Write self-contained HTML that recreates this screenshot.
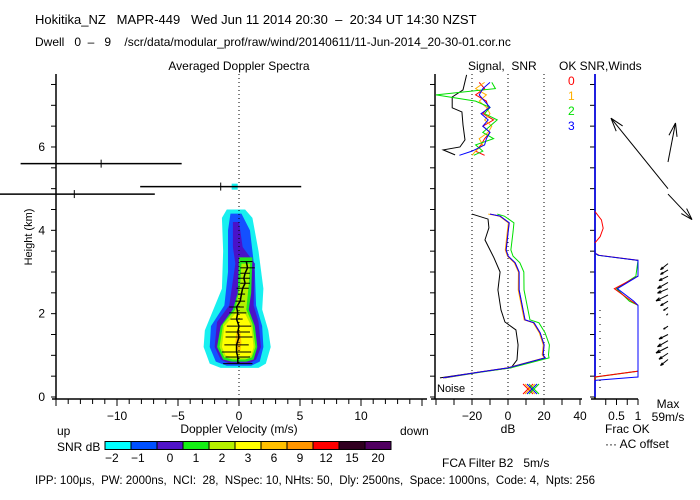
<!DOCTYPE html>
<html><head><meta charset="utf-8"><style>
body{margin:0;background:#fff}
svg{display:block;font-family:"Liberation Sans",sans-serif}
text{font-size:12px;fill:#000;white-space:pre}
</style></head><body>
<svg id="c" width="700" height="500" viewBox="0 0 700 500" xml:space="preserve">
<text x="35" y="24" style="font-size:13px">Hokitika_NZ   MAPR-449   Wed Jun 11 2014 20:30  –  20:34 UT 14:30 NZST</text>
<text x="35" y="46">Dwell   0  –   9    /scr/data/modular_prof/raw/wind/20140611/11-Jun-2014_20-30-01.cor.nc</text>
<text x="239" y="70" text-anchor="middle">Averaged Doppler Spectra</text>
<text x="468" y="70">Signal,  SNR</text>
<text x="559" y="70">OK SNR,Winds</text>
<text transform="translate(32,237) rotate(-90)" text-anchor="middle" style="font-size:11px">Height (km)</text>
<text x="239" y="433" text-anchor="middle">Doppler Velocity (m/s)</text>
<text x="57" y="435">up</text>
<text x="400" y="435">down</text>
<text x="57" y="451">SNR dB</text>
<text x="508" y="433" text-anchor="middle">dB</text>
<text x="605" y="433">Frac OK</text>
<text x="605" y="448">··· AC offset</text>
<text x="668" y="408" text-anchor="middle">Max</text>
<text x="668" y="421" text-anchor="middle">59m/s</text>
<text x="442" y="467">FCA Filter B2   5m/s</text>
<text x="35" y="484" style="font-size:11.5px">IPP: 100μs,  PW: 2000ns,  NCI:  28,  NSpec: 10, NHts: 50,  Dly: 2500ns,  Space: 1000ns,  Code: 4,  Npts: 256</text>
<text x="437" y="392" style="font-size:11px">Noise</text>
</svg>
<script>
// ---- data ----
const heightTicks=[0,2,4,6];
const velTicks=[-10,-5,0,5,10];
const dbTicks=[-20,0,20,40];
const fracTicks=[0.5,1];
const cbLabels=["-2","-1","0","1","2","3","6","9","12","15","20"];
const cbColors=["#00ffff","#0050ff","#5014c8","#14f014","#b4f000","#ffff00","#ffc000","#ff9600","#ff0000","#300020","#500060"];
const lvCyan=[[4.5,-1.0,0.5],[4.3,-1.4,1.1],[3.5,-1.3,1.6],[2.6,-1.4,2.0],[2.1,-2.1,1.9],[1.6,-2.8,2.4],[1.2,-2.9,2.6],[0.8,-2.4,2.2],[0.7,-1.5,1.6]];
const lvBlue=[[4.4,-0.7,0.2],[4.0,-0.9,0.9],[3.0,-0.9,1.3],[2.2,-1.2,1.4],[1.7,-2.3,1.9],[1.2,-2.4,2.0],[0.85,-1.9,1.7],[0.75,-1.0,1.0]];
const lvPurple=[[4.2,-0.5,0.0],[3.6,-0.5,0.3],[3.2,-0.3,1.3],[2.2,-0.8,1.2],[1.8,-1.8,1.6],[1.2,-2.0,1.8],[0.9,-1.5,1.4],[0.8,-0.8,0.8]];
const lvGreen=[[3.35,0.0,1.1],[2.5,-0.1,1.0],[2.1,-0.5,0.8],[1.7,-1.5,1.3],[1.2,-1.8,1.5],[0.9,-1.3,1.2],[0.85,-0.6,0.6]];
const lvYG=[[3.2,0.2,0.9],[2.7,0.1,0.8],[2.1,-0.3,0.6],[1.75,-1.3,1.1],[1.2,-1.6,1.35],[0.95,-1.2,1.05],[0.9,-0.5,0.5]];
const lvYellow=[[2.0,-0.3,0.5],[1.7,-1.2,1.0],[1.2,-1.4,1.2],[1.0,-1.1,1.0],[0.95,-0.5,0.5]];
const lvOrange=[[1.6,-0.2,0.1],[1.3,-0.3,0.2],[1.1,-0.1,0.1]];
const specH=[3.25,3.1,2.97,2.85,2.73,2.61,2.47,2.3,2.16,2.02,1.87,1.7,1.56,1.44,1.25,1.08,0.96,0.8];
const specMean=[0.6,0.7,0.5,0.4,0.5,0.3,0.2,0.1,-0.2,-0.1,-0.2,0,-0.1,0,-0.2,-0.2,-0.1,-0.1];
const specHW=[0.5,0.6,0.4,0.5,0.4,0.5,0.3,0.4,0.6,0.7,0.5,1.0,1.0,1.1,1.0,1.2,1.0,1.2];
const highH=[5.6,5.05,4.87];
const highMean=[-11.3,-1.5,-13.5];
const highHW=[6.6,6.6,6.6];
const sigLowH=[4.39,4.27,4.06,3.77,3.34,3.0,2.57,2.09,1.8,1.61,1.25,0.89,0.7,0.6,0.46];
const sigLowDb=[-20,-11.1,-10.6,-12.8,-7.8,-4.4,-5.6,-3.9,-1.7,4.4,5.6,5,1.7,-15.6,-37.8];
const sigHighH=[7.73,7.37,7.2,6.94,6.84,6.53,6.17,6.0,5.93,5.81];
const sigHighDb=[-23,-25,-31,-31,-25.6,-25,-23.9,-26.7,-36,-29.4];
const snrLowH=[4.39,4.34,4.18,3.96,3.53,3.38,3.22,3.0,2.57,2.33,1.85,1.78,1.54,1.25,1.01,0.94,0.7,0.6,0.46];
const snr0=[-10,-4.4,0.6,0,-1.1,0,3.9,6.1,6.1,7.2,9.4,14.4,17.8,20,19.4,20.6,0,-15.6,-36];
const snr1=[-11,-4.8,0.2,-0.4,-1.5,-0.3,3.5,5.8,5.7,6.8,9.0,14.0,17.4,19.6,19.0,20.2,-0.4,-16,-35];
const snr2=[-6,-2.0,3.3,2.8,1.6,2.8,6.6,8.8,8.9,10,12.2,17.2,20.6,23,22.5,22.8,1.5,-14.5,-35];
const snr3=[-10,-4.4,0.7,0.1,-1.0,0.1,4.0,6.2,6.2,7.3,9.5,14.5,17.9,20.1,19.5,20.7,0,-15.6,-36];
const snrHighH=[7.55,7.4,7.25,7.1,6.95,6.8,6.65,6.5,6.35,6.2,6.05,5.9,5.8];
const snrHigh0=[-16,-13,-18,-12,-11,-14,-8,-14,-10,-13,-15,-18,-13];
const snrHigh1=[-13,-18,-12,-16,-12,-10,-13,-9,-11,-16,-14,-18,-20];
const snrHigh2=[-9,-7,-40,-18,-10,-13,-6,-10,-14,-8,-18,-14,-19];
const snrHigh3=[-10,-14,-16,-13,-10,-15,-11,-14,-10,-12,-13,-20,-27];
const fracH=[3.45,3.4,3.28,2.9,2.6,2.3,2.2,1.2,0.62,0.48,0.4];
const frac0=[0,0.1,1,1,0.45,0.85,1,1,1,0,0];
const frac2=[0,0.07,1,0.95,0.5,0.8,1,1,1,0.02,0];
const frac3=[0,0.08,1,1,0.52,0.9,1,1,1,1,0];
const bumpH=[4.45,4.25,4.05,3.85,3.7];
const bumpRed=[0,0.15,0.19,0.12,0];
const windH=[5.64,5.0,4.87,3.2,3.05,2.9,2.75,2.6,2.45,2.3,2.15,2.0,1.7,1.5,1.35,1.2,1.05,0.9];
const windU=[5,-38,16,-5,-5,-6,-7,-7,-8,-5,-3,-1,-3,-6,-7,-8,-6,-5];
const windV=[26,47,-17,-4,-3,-3,-4,-3,-4,-3,-2,-1,-2,-3,-4,-4,-4,-4];

// ---- scales ----
const svg=document.getElementById('c');
const NS='http://www.w3.org/2000/svg';
const yH=h=>397-h*41.67;
const xV=v=>239+v*12.2;
const xD=d=>508+d*1.8;
const xF=f=>595+f*43;
function mk(tag,a){const e=document.createElementNS(NS,tag);for(const k in a)e.setAttribute(k,a[k]);svg.appendChild(e);return e;}
function line(x1,y1,x2,y2,col,extra){return mk('line',Object.assign({x1,y1,x2,y2,stroke:col||'#000','stroke-width':1},extra||{}));}

cbColors.forEach((c,i)=>{
 const r=mk('rect',{x:105+i*26,y:441.5,width:26,height:8,fill:c,stroke:'#000','stroke-width':1});
 
 
 const t=mk('text',{x:105+i*26+(i<2?0:13),y:462,'text-anchor':i<2?'start':'middle'});t.textContent=cbLabels[i].replace('-','−');
 
 
});

function contour(arr,col,name){
 const L=arr.map(p=>xV(p[1])+','+yH(p[0]));const R=arr.slice().reverse().map(p=>xV(p[2])+','+yH(p[0]));
 const p=mk('polygon',{points:L.concat(R).join(' '),fill:col});
 
 
}
contour(lvCyan,'#18f0f0','contour-snr-minus2');
contour(lvBlue,'#1450ff','contour-snr-minus1');
contour(lvPurple,'#4a12c8','contour-snr-0');
contour(lvGreen,'#20e820','contour-snr-1');
contour(lvYG,'#b4f000','contour-snr-2');
contour(lvYellow,'#ffff00','contour-snr-3');
contour(lvOrange,'#ffc000','contour-snr-6');
const small=mk('rect',{x:xV(-0.6),y:yH(5.12),width:6,height:6,fill:'#18f0f0'});



const z=line(xV(0),74,xV(0),397,'#000',{'stroke-dasharray':'1,3'});



let mp=[];
specH.forEach((h,i)=>{
 const y=yH(h);
 const l=line(xV(specMean[i]-specHW[i]),y,xV(specMean[i]+specHW[i]),y);
 
 
 mp.push(xV(specMean[i])+','+y);
});
const ml=mk('polyline',{points:mp.join(' '),fill:'none',stroke:'#000','stroke-width':1.5});


highH.forEach((h,i)=>{
 const y=yH(h);
 const l=line(Math.max(0,xV(highMean[i]-highHW[i])),y,xV(highMean[i]+highHW[i]),y,'#000',{'stroke-width':1.5});
 
 
 const t=line(xV(highMean[i]),y-4,xV(highMean[i]),y+4);
 
 
});

function axisGroup(name,x1,x2){
 const a=line(x1,74,x1,399,'#000',{'stroke-width':1.5});
 const b=line(x1-4,399,x2,399,'#000',{'stroke-width':1.5});
 for(let h=0;h<=7.5;h+=0.5){const t=line(x1-5,yH(h),x1,yH(h));}
}
axisGroup('spectra',56,427);
axisGroup('snr',435,582);
axisGroup('frac',595,638);
heightTicks.forEach(h=>{const t=mk('text',{x:45,y:yH(h)+4,'text-anchor':'end'});t.textContent=h;});
for(let v=-15;v<=15;v++){const x=xV(v);if(x<56||x>427)continue;const t=line(x,399,x,v%5===0?406:404);}
velTicks.forEach(v=>{const t=mk('text',{x:xV(v),y:420,'text-anchor':'middle'});t.textContent=String(v).replace('-','−');});
for(let d=-40;d<=40;d+=10){const x=xD(d);if(x<435)continue;const t=line(x,399,x,405);}
dbTicks.forEach(d=>{const t=mk('text',{x:xD(d),y:420,'text-anchor':'middle'});t.textContent=String(d).replace('-','−');});
[-20,0,20].forEach(d=>{const l=line(xD(d),74,xD(d),397,'#000',{'stroke-dasharray':'1,3'});});
for(let f=0.25;f<=1;f+=0.25){const t=line(xF(f),399,xF(f),405);}
fracTicks.forEach(f=>{const t=mk('text',{x:xF(f),y:420,'text-anchor':'middle'});t.textContent=f;});

function pl(H,D,col,name,sx){
 const p=mk('polyline',{points:H.map((h,i)=>sx(D[i])+','+yH(h)).join(' '),fill:'none',stroke:col,'stroke-width':1});
 
 
}
pl(sigLowH,sigLowDb,'#000','signal-line-low',xD);
pl(sigHighH,sigHighDb,'#000','signal-line-high',xD);
pl(snrLowH,snr2,'#00e000','snr-beam-2-low',xD);
pl(snrLowH,snr1,'#ffb000','snr-beam-1-low',xD);
pl(snrLowH,snr0,'#ff0000','snr-beam-0-low',xD);
pl(snrLowH,snr3,'#0000ff','snr-beam-3-low',xD);
pl(snrHighH,snrHigh0,'#ff0000','snr-beam-0-high',xD);
pl(snrHighH,snrHigh1,'#ffb000','snr-beam-1-high',xD);
pl(snrHighH,snrHigh2,'#00e000','snr-beam-2-high',xD);
pl(snrHighH,snrHigh3,'#0000ff','snr-beam-3-high',xD);
['#ff0000','#ffb000','#0000ff','#00e000'].forEach((c,i)=>{
 const x=528+i*2,y=389;
 const a=line(x-5,y-5,x+5,y+5,c);
 const b=line(x-5,y+5,x+5,y-5,c);
});
['0','1','2','3'].forEach((s,i)=>{
 const t=mk('text',{x:568,y:85+i*15});t.textContent=s;
 t.setAttribute('style','fill:'+['#ff0000','#ffb000','#00e000','#0000ff'][i]);
 
 
});

const fz=line(xF(0),74,xF(0),397,'#0000ff',{'stroke-width':1.5});
pl(bumpH,bumpRed,'#ff0000','frac-bump-red',xF);
pl(fracH,frac2,'#00e000','frac-beam-2',xF);
pl(fracH,frac0,'#ff0000','frac-beam-0',xF);
pl(fracH,frac3,'#0000ff','frac-beam-3',xF);
const ac=line(600,310,600,392,'#000',{'stroke-dasharray':'1,6'});

windH.forEach((h,i)=>{
 const y=yH(h),x=668,sc=1.5;
 const ex=x+windU[i]*sc,ey=y-windV[i]*sc;
 const l=line(x,y,ex,ey);
 const ang=Math.atan2(ey-y,ex-x),hl=Math.min(14,Math.hypot(ex-x,ey-y)*0.35);
 [0.3,-0.3].forEach(d=>{const hh=line(ex,ey,ex-hl*Math.cos(ang+d),ey-hl*Math.sin(ang+d));});
});
</script>
</body></html>
